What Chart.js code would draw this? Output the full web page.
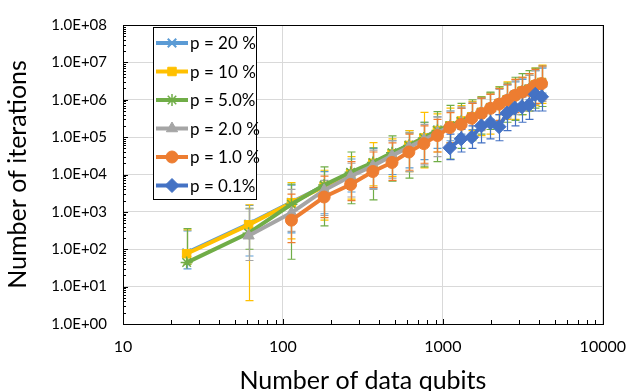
<!DOCTYPE html>
<html>
<head>
<meta charset="utf-8">
<script src="https://cdn.jsdelivr.net/npm/chart.js@4.4.0/dist/chart.umd.min.js"></script>
<style>
  html, body { margin: 0; padding: 0; background: #fff; }
</style>
</head>
<body>
<canvas id="myChart" width="639" height="391"></canvas>
<script>
// data qubits (x)
var qubits = [25, 61, 113, 181, 265, 365, 481, 613, 761, 925, 1105, 1301, 1513, 1741, 1985, 2245, 2521, 2813, 3121, 3445, 3785, 4141];

// iterations per error rate
var p20 = [80, 470, 1800, 4900, 1.1e4, 2.0e4, 3.7e4, 6.1e4, 9.6e4, 1.55e5, 2.0e5, 2.7e5, 3.5e5, 4.6e5, 6.2e5, 8.0e5, 1.0e6, 1.35e6, 1.7e6, 1.95e6, 2.5e6, 2.9e6];
var p10 = [76, 450, 1750, 4800, 1.05e4, 2.0e4, 3.6e4, 6.0e4, 9.5e4, 1.5e5, 2.0e5, 2.7e5, 3.5e5, 4.6e5, 6.1e5, 7.9e5, 1.0e6, 1.3e6, 1.7e6, 1.9e6, 2.5e6, 2.9e6];
var p5 = [44, 270, 1600, 5200, 1.15e4, 2.1e4, 3.8e4, 6.0e4, 9.5e4, 1.5e5, 2.0e5, 2.6e5, 3.4e5, 4.5e5, 6.0e5, 7.8e5, 1.0e6, 1.3e6, 1.65e6, 1.9e6, 2.4e6, 2.8e6];
var p2 = [null, 230, 940, 3800, 9000, 1.7e4, 3.2e4, 5.4e4, 8.5e4, 1.3e5, 1.9e5, 2.4e5, 3.3e5, 4.4e5, 5.8e5, 7.6e5, 9.8e5, 1.3e6, 1.6e6, 1.8e6, 2.4e6, 2.7e6];
var p1 = [null, null, 600, 2500, 5400, 1.2e4, 2.1e4, 4.0e4, 6.7e4, 1.1e5, 1.8e5, 2.2e5, 3.2e5, 4.3e5, 5.9e5, 7.6e5, 9.6e5, 1.3e6, 1.6e6, 1.8e6, 2.4e6, 2.7e6];
var p01 = [null, null, null, null, null, null, null, null, null, null, 5.2e4, 9.0e4, 1.0e5, 2.0e5, 2.4e5, 1.9e5, 4.4e5, 6.0e5, 6.5e5, 7.2e5, 1.4e6, 1.2e6];

// error bar ends (low / high)
var p20Lo = [30, 66, 275, 890, 3400, 4300, 1.0e4, 1.5e4, 2.5e4, 5.0e4, 8.0e4, 1.2e5, 1.6e5, 2.2e5, 3.0e5, 4.0e5, 5.0e5, 6.5e5, 8.0e5, 1.0e6, 1.2e6, 1.5e6];
var p20Hi = [310, 1500, 5200, 1.2e4, 2.6e4, 5.0e4, 8.0e4, 1.5e5, 2.5e5, 3.5e5, 5.0e5, 6.0e5, 8.0e5, 1.1e6, 1.5e6, 2.0e6, 2.5e6, 3.0e6, 3.5e6, 4.5e6, 6.0e6, 7.0e6];
var p10Lo = [40, 4.2, 190, 600, 2200, 5000, 8900, 1.2e4, 1.5e4, 4.0e4, 7.0e4, 1.0e5, 1.5e5, 1.1e5, 1.2e5, 2.0e5, 3.0e5, 3.0e5, 4.0e5, 5.0e5, 7.0e5, 8.0e5];
var p10Hi = [330, 1550, 6100, 1.3e4, 3.0e4, 7.1e4, 9.0e4, 1.5e5, 4.6e5, 4.2e5, 6.0e5, 7.0e5, 9.0e5, 1.2e6, 1.5e6, 2.2e6, 3.0e6, 3.5e6, 4.0e6, 5.0e6, 7.0e6, 8.5e6];
var p5Lo = [40, 100, 54, 420, 1650, 2100, 6600, 8000, 1.6e4, 2.2e4, 2.6e4, 5.0e4, 8.0e4, 1.2e5, 1.6e5, 2.0e5, 2.5e5, 2.8e5, 4.0e5, 5.0e5, 6.0e5, 6.6e5];
var p5Hi = [355, 1250, 5500, 1.6e4, 4.0e4, 5.2e4, 1.08e5, 1.3e5, 2.5e5, 4.8e5, 7.1e5, 8.0e5, 1.0e6, 1.2e6, 1.6e6, 2.2e6, 2.8e6, 4.0e6, 5.0e6, 6.0e6, 7.0e6, 8.0e6];
var p2Lo = [null, 50, 300, 800, 2500, 4000, 8000, 1.2e4, 1.8e4, 3.0e4, 5.0e4, 8.0e4, 1.1e5, 1.5e5, 2.0e5, 2.6e5, 3.2e5, 4.0e5, 5.0e5, 6.0e5, 7.5e5, 9.0e5];
var p2Hi = [null, 1200, 4000, 7000, 2.0e4, 4.5e4, 8.0e4, 1.3e5, 2.2e5, 3.5e5, 5.0e5, 6.5e5, 8.5e5, 1.1e6, 1.4e6, 1.9e6, 2.5e6, 3.2e6, 3.8e6, 4.5e6, 6.0e6, 7.5e6];
var p1Lo = [null, null, 150, 700, 2000, 4500, 7000, 1.3e4, 2.0e4, 4.0e4, 7.0e4, 9.0e4, 1.2e5, 1.6e5, 2.0e5, 2.8e5, 3.5e5, 4.5e5, 5.5e5, 6.5e5, 8.0e5, 1.0e6];
var p1Hi = [null, null, 3000, 9000, 2.2e4, 4.0e4, 7.0e4, 1.2e5, 2.0e5, 3.0e5, 4.5e5, 6.0e5, 8.0e5, 1.1e6, 1.4e6, 2.0e6, 2.6e6, 3.5e6, 4.0e6, 5.0e6, 6.5e6, 8.0e6];
var p01Lo = [null, null, null, null, null, null, null, null, null, null, 2.5e4, 4.0e4, 5.0e4, 7.0e4, 9.0e4, 8.0e4, 1.5e5, 2.0e5, 2.5e5, 3.0e5, 5.0e5, 5.0e5];
var p01Hi = [null, null, null, null, null, null, null, null, null, null, 1.2e5, 1.6e5, 2.0e5, 4.0e5, 5.0e5, 4.0e5, 8.0e5, 1.0e6, 1.2e6, 1.4e6, 2.5e6, 2.2e6];

var seriesLabels = ['p = 20 %', 'p = 10 %', 'p = 5.0%', 'p = 2.0 %', 'p = 1.0 %', 'p = 0.1%'];
var xTicks = [10, 100, 1000, 10000];
var yTicks = [1, 10, 100, 1e3, 1e4, 1e5, 1e6, 1e7, 1e8];

function points(vals, lo, hi) {
  var out = [];
  for (var i = 0; i < qubits.length; i++) {
    if (vals[i] == null) continue;
    out.push({ x: qubits[i], y: vals[i], lo: lo[i], hi: hi[i] });
  }
  return out;
}

var styles = [
  { color: '#5B9BD5', point: 'crossRot', r: 6, bw: 2 },
  { color: '#FFC000', point: 'rect', r: 6, bw: 1 },
  { color: '#70AD47', point: 'star', r: 6, bw: 1.5 },
  { color: '#A5A5A5', point: 'triangle', r: 6.5, bw: 1 },
  { color: '#ED7D31', point: 'circle', r: 6, bw: 1 },
  { color: '#4472C4', point: 'rectRot', r: 7, bw: 1 }
];
var seriesData = [
  points(p20, p20Lo, p20Hi),
  points(p10, p10Lo, p10Hi),
  points(p5, p5Lo, p5Hi),
  points(p2, p2Lo, p2Hi),
  points(p1, p1Lo, p1Hi),
  points(p01, p01Lo, p01Hi)
];

var datasets = seriesData.map(function(d, i) {
  var s = styles[i];
  return {
    label: seriesLabels[i],
    data: d,
    showLine: true,
    borderColor: s.color,
    backgroundColor: s.color,
    borderWidth: 4,
    pointStyle: s.point,
    pointRadius: s.r,
    pointBorderWidth: s.bw,
    pointBorderColor: s.color,
    pointBackgroundColor: s.color,
    order: 5 - i
  };
});

// error bars, drawn under the lines
var errorBars = {
  id: 'errorBars',
  beforeDatasetsDraw: function(chart) {
    var ctx = chart.ctx, y = chart.scales.y, x = chart.scales.x;
    ctx.save();
    ctx.lineWidth = 1.2;
    for (var i = 0; i < chart.data.datasets.length; i++) {
      var ds = chart.data.datasets[i];
      ctx.strokeStyle = ds.borderColor;
      ds.data.forEach(function(pt) {
        if (pt.lo == null) return;
        var px = Math.round(x.getPixelForValue(pt.x)) + 0.5;
        var y1 = y.getPixelForValue(pt.lo), y2 = y.getPixelForValue(pt.hi);
        ctx.beginPath();
        ctx.moveTo(px, y1); ctx.lineTo(px, y2);
        ctx.moveTo(px - 4, y1); ctx.lineTo(px + 4, y1);
        ctx.moveTo(px - 4, y2); ctx.lineTo(px + 4, y2);
        ctx.stroke();
      });
    }
    ctx.restore();
  }
};

// frame, minor ticks and legend box
var frame = {
  id: 'frame',
  afterDraw: function(chart) {
    var ctx = chart.ctx, a = chart.chartArea, x = chart.scales.x, y = chart.scales.y;
    ctx.save();
    ctx.strokeStyle = '#000';
    ctx.lineWidth = 1;
    ctx.strokeRect(Math.round(a.left) + 0.5, Math.round(a.top) + 0.5, Math.round(a.right - a.left), Math.round(a.bottom - a.top));
    ctx.beginPath();
    for (var d = 0; d < 8; d++) {
      for (var k = 1; k < 10; k++) {
        var py = Math.round(y.getPixelForValue(k * Math.pow(10, d))) + 0.5;
        ctx.moveTo(a.left, py); ctx.lineTo(a.left + (k === 1 ? 5 : 3), py);
      }
    }
    for (var e = 1; e < 4; e++) {
      for (var m = 1; m < 10; m++) {
        var px = Math.round(x.getPixelForValue(m * Math.pow(10, e))) + 0.5;
        ctx.moveTo(px, a.bottom); ctx.lineTo(px, a.bottom - (m === 1 ? 5 : 4));
      }
    }
    ctx.stroke();

    // legend
    var lx = 153, ly = 27, lw = 103, lh = 172;
    ctx.fillStyle = '#fff';
    ctx.fillRect(lx, ly, lw, lh);
    ctx.strokeRect(lx + 0.5, ly + 0.5, lw, lh);
    ctx.font = '17px Lato';
    ctx.textBaseline = 'middle';
    chart.data.datasets.forEach(function(ds, i) {
      var ry = ly + 16 + i * 28.5;
      ctx.strokeStyle = ds.borderColor;
      ctx.lineWidth = 4;
      ctx.beginPath();
      ctx.moveTo(lx + 3, ry); ctx.lineTo(lx + 35, ry);
      ctx.stroke();
      ctx.fillStyle = ds.borderColor;
      ctx.lineWidth = ds.pointBorderWidth;
      Chart.helpers.drawPoint(ctx, { pointStyle: ds.pointStyle, radius: ds.pointRadius, borderWidth: ds.pointBorderWidth, rotation: 0 }, lx + 19, ry);
      ctx.fillStyle = '#000';
      ctx.fillText(ds.label, lx + 37, ry + 1);
    });
    ctx.restore();
  }
};

var ctx = document.getElementById('myChart').getContext('2d');
var config = {
  type: 'scatter',
  data: { datasets: datasets },
  options: {
    responsive: false,
    animation: false,
    devicePixelRatio: 1,
    layout: { padding: { top: 13, right: 23, left: 0, bottom: 0 } },
    plugins: { legend: { display: false }, tooltip: { enabled: false } },
    scales: {
      x: {
        type: 'logarithmic',
        min: 10, max: 10000,
        afterBuildTicks: function(s) { s.ticks = xTicks.map(function(v) { return { value: v }; }); },
        afterFit: function(s) { s.height = 67; },
        grid: { color: '#D9D9D9', lineWidth: 1, drawTicks: false },
        border: { display: false },
        ticks: {
          padding: 13, color: '#000', font: { family: 'Lato', size: 16 },
          maxRotation: 0, autoSkip: false,
          callback: function(v) { return String(v); }
        },
        title: { display: true, text: 'Number of data qubits', color: '#000', font: { family: 'Lato', size: 25 }, padding: { top: 0, bottom: -5 } }
      },
      y: {
        type: 'logarithmic',
        min: 1, max: 1e8,
        afterBuildTicks: function(s) { s.ticks = yTicks.map(function(v) { return { value: v }; }); },
        afterFit: function(s) { s.width = 123; },
        grid: { color: '#D9D9D9', lineWidth: 1, drawTicks: false },
        border: { display: false },
        ticks: {
          padding: 16, color: '#000', font: { family: 'Lato', size: 15 },
          autoSkip: false,
          callback: function(v) {
            var e = Math.round(Math.log10(v));
            return '1.0E+' + (e < 10 ? '0' : '') + e;
          }
        },
        title: { display: true, text: 'Number of iterations', color: '#000', font: { family: 'Lato', size: 25 }, padding: { top: 3, bottom: 0 } }
      }
    }
  },
  plugins: [errorBars, frame]
};
var myChart = new Chart(ctx, config);
</script>
</body>
</html>
